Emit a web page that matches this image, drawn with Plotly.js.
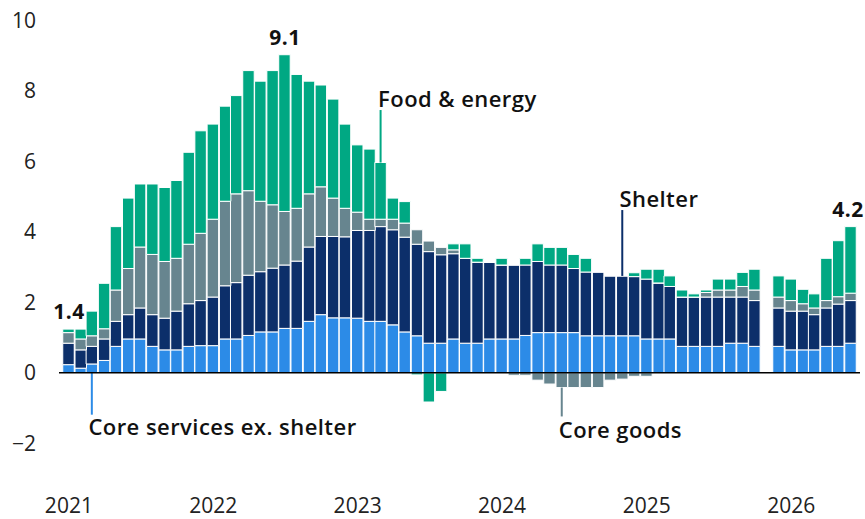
<!DOCTYPE html>
<html>
<head>
<meta charset="utf-8">
<script src="https://cdn.plot.ly/plotly-3.0.1.min.js"></script>
<style>
  html, body { margin: 0; padding: 0; background: #fff; }
  #chart { width: 865px; height: 519px; }
  #chart .annotation-text { letter-spacing: 0.45px; }
</style>
</head>
<body>
<div id="chart"></div>
<script>
// Months (data month; October 2025 missing)
const months = [
  "2020-12",
  "2021-01","2021-02","2021-03","2021-04","2021-05","2021-06","2021-07","2021-08","2021-09","2021-10","2021-11","2021-12",
  "2022-01","2022-02","2022-03","2022-04","2022-05","2022-06","2022-07","2022-08","2022-09","2022-10","2022-11","2022-12",
  "2023-01","2023-02","2023-03","2023-04","2023-05","2023-06","2023-07","2023-08","2023-09","2023-10","2023-11","2023-12",
  "2024-01","2024-02","2024-03","2024-04","2024-05","2024-06","2024-07","2024-08","2024-09","2024-10","2024-11","2024-12",
  "2025-01","2025-02","2025-03","2025-04","2025-05","2025-06","2025-07","2025-08","2025-09","2025-11","2025-12",
  "2026-01","2026-02","2026-03","2026-04","2026-05"
];

const coreServicesExShelter = [
  0.23,
  0.13,0.25,0.35,0.75,0.96,0.96,0.75,0.65,0.65,0.75,0.77,0.77,
  0.96,0.96,1.06,1.16,1.16,1.26,1.26,1.46,1.65,1.56,1.56,1.55,
  1.46,1.46,1.36,1.16,1.05,0.84,0.84,0.96,0.84,0.84,0.96,0.96,
  0.96,1.06,1.14,1.14,1.14,1.14,1.05,1.05,1.05,1.05,1.05,0.96,
  0.96,0.96,0.75,0.75,0.75,0.75,0.84,0.84,0.75,0.75,0.65,
  0.65,0.65,0.75,0.75,0.84
];

const shelter = [
  0.61,
  0.52,0.50,0.61,0.71,0.69,0.88,0.90,0.90,1.10,1.21,1.28,1.38,
  1.51,1.60,1.71,1.71,1.81,1.80,1.91,2.11,2.22,2.31,2.30,2.49,
  2.58,2.69,2.70,2.69,2.60,2.60,2.51,2.42,2.41,2.30,2.18,2.10,
  2.10,2.00,2.02,1.92,1.92,1.82,1.81,1.81,1.70,1.70,1.68,1.70,
  1.59,1.49,1.40,1.40,1.40,1.40,1.31,1.31,1.30,1.09,1.10,
  1.10,1.00,1.09,1.20,1.21
];

const coreGoods = [
  0.30,
  0.31,0.30,0.29,0.89,1.31,1.73,1.71,1.61,1.50,1.69,1.91,2.21,
  2.40,2.52,2.40,2.00,1.80,1.52,1.50,1.51,1.41,1.09,0.81,0.52,
  0.32,0.21,0.30,0.40,0.41,0.30,0.21,0.11,0.00,0.00,0.00,0.00,
  -0.07,-0.07,-0.21,-0.32,-0.42,-0.42,-0.42,-0.42,-0.21,-0.18,-0.10,-0.10,
  0.00,0.00,0.00,0.00,0.13,0.20,0.20,0.30,0.30,0.31,0.30,
  0.21,0.19,0.21,0.21,0.21
];

const foodEnergy = [
  0.10,
  0.28,0.70,1.29,1.80,2.00,1.79,2.00,2.10,2.21,2.61,2.91,2.70,
  2.70,2.79,3.41,3.41,3.81,4.45,3.80,3.20,2.89,2.81,2.39,1.91,
  1.99,1.61,0.60,0.61,-0.06,-0.83,-0.53,0.17,0.41,0.11,0.00,0.19,
  0.00,0.19,0.50,0.50,0.50,0.40,0.39,0.00,0.00,0.00,0.11,0.28,
  0.39,0.30,0.20,0.09,0.07,0.31,0.31,0.40,0.59,0.60,0.61,
  0.41,0.40,1.20,1.59,1.89
];

const seriesNames = ["Core services ex. shelter", "Shelter", "Core goods", "Food & energy"];
const seriesColors = ["#2C8BE7", "#0C2F6A", "#67858F", "#00A883"];

const yearTicks = ["2021-01-01","2022-01-01","2023-01-01","2024-01-01","2025-01-01","2026-01-01"];
const yearLabels = ["2021","2022","2023","2024","2025","2026"];
const yTickVals = [-2, 0, 2, 4, 6, 8, 10];
const yTickText = ["\u22122", "0", "2", "4", "6", "8", "10"];

// Headline values shown above bars
const headlineLabels = [
  {month: "2020-12", text: "1.4", shift: 0},
  {month: "2022-06", text: "9.1", shift: 0},
  {month: "2026-05", text: "4.2", shift: -3}
];

// Series callouts: which month the leader line attaches to, how far it runs, where the text sits
const callouts = [
  {series: 0, month: "2021-02", lineEnd: -1.19, textY: -1.51, side: "down"},
  {series: 3, month: "2023-02", lineEnd: 7.46, textY: 7.81, side: "up"},
  {series: 1, month: "2024-10", lineEnd: 4.62, textY: 4.95, side: "up"},
  {series: 2, month: "2024-05", lineEnd: -1.24, textY: -1.61, side: "down"}
];

// ---- build ----
function monthEnd(s) {
  const [y, m] = s.split("-").map(Number);
  return new Date(Date.UTC(y, m, 0)).toISOString().slice(0, 10);
}
const xDates = months.map(monthEnd);
const seriesData = [coreServicesExShelter, shelter, coreGoods, foodEnergy];
const DAY = 86400000;
const barWidth = 29 * DAY;
const LETTER_SPACING = 0.45;

const traces = seriesData.map((vals, i) => ({
  type: "bar",
  name: seriesNames[i],
  x: xDates,
  y: vals,
  width: xDates.map(() => barWidth),
  marker: {color: seriesColors[i], line: {color: "#ffffff", width: 1}},
  hoverinfo: "x+y+name"
}));

function posSum(idx, upTo) {
  let s = 0;
  for (let k = 0; k <= upTo; k++) { const v = seriesData[k][idx]; if (v > 0) s += v; }
  return s;
}
function negSum(idx, upTo) {
  let s = 0;
  for (let k = 0; k <= upTo; k++) { const v = seriesData[k][idx]; if (v < 0) s += v; }
  return s;
}

const labelFont = {family: "'Open Sans', Lato, sans-serif", size: 22, color: "#111", weight: 600};
const numFont = {family: "'Open Sans', Lato, sans-serif", size: 21, color: "#111", weight: 700};

const annotations = [];
const shapes = [];

headlineLabels.forEach(h => {
  const i = months.indexOf(h.month);
  annotations.push({
    x: xDates[i], y: posSum(i, 3), xref: "x", yref: "y",
    text: h.text, showarrow: false, yanchor: "middle", yshift: 18,
    xshift: h.shift + h.text.length * LETTER_SPACING / 2,
    font: numFont
  });
});

callouts.forEach(c => {
  const i = months.indexOf(c.month);
  const start = c.side === "up" ? posSum(i, c.series) : (c.series === 0 ? 0 : negSum(i, c.series));
  shapes.push({
    type: "line", xref: "x", yref: "y",
    x0: xDates[i], x1: xDates[i], y0: start, y1: c.lineEnd,
    line: {color: seriesColors[c.series], width: 2}
  });
  const name = seriesNames[c.series];
  annotations.push({
    x: xDates[i], y: c.textY, xref: "x", yref: "y",
    text: name, showarrow: false,
    xanchor: "left", yanchor: "middle",
    xshift: -5 + name.length * LETTER_SPACING / 2,
    font: labelFont
  });
});

// zero baseline drawn on top of bars
shapes.push({
  type: "line", xref: "paper", yref: "y", x0: 0, x1: 1, y0: 0, y1: 0,
  line: {color: "#000000", width: 1.6}, layer: "above"
});

const tickFont = {family: "'Open Sans', Lato, sans-serif", size: 21, color: "#222"};

const layout = {
  width: 865, height: 519,
  margin: {l: 59, r: 5, t: 10, b: 30},
  paper_bgcolor: "#ffffff", plot_bgcolor: "#ffffff",
  barmode: "relative", bargap: 0,
  showlegend: false,
  xaxis: {
    type: "date", range: ["2020-12-07", "2026-06-24"],
    tickmode: "array", tickvals: yearTicks, ticktext: yearLabels,
    showgrid: false, zeroline: false, showline: false, ticks: "",
    tickfont: tickFont, ticklabelstandoff: 2, fixedrange: true
  },
  yaxis: {
    range: [-3.3, 10.3],
    tickmode: "array", tickvals: yTickVals, ticktext: yTickText,
    showgrid: false, zeroline: false,
    showline: false, ticks: "", tickfont: tickFont, ticklabelstandoff: 22, fixedrange: true
  },
  shapes: shapes,
  annotations: annotations
};

Plotly.newPlot("chart", traces, layout, {displayModeBar: false, staticPlot: true});
</script>
</body>
</html>
